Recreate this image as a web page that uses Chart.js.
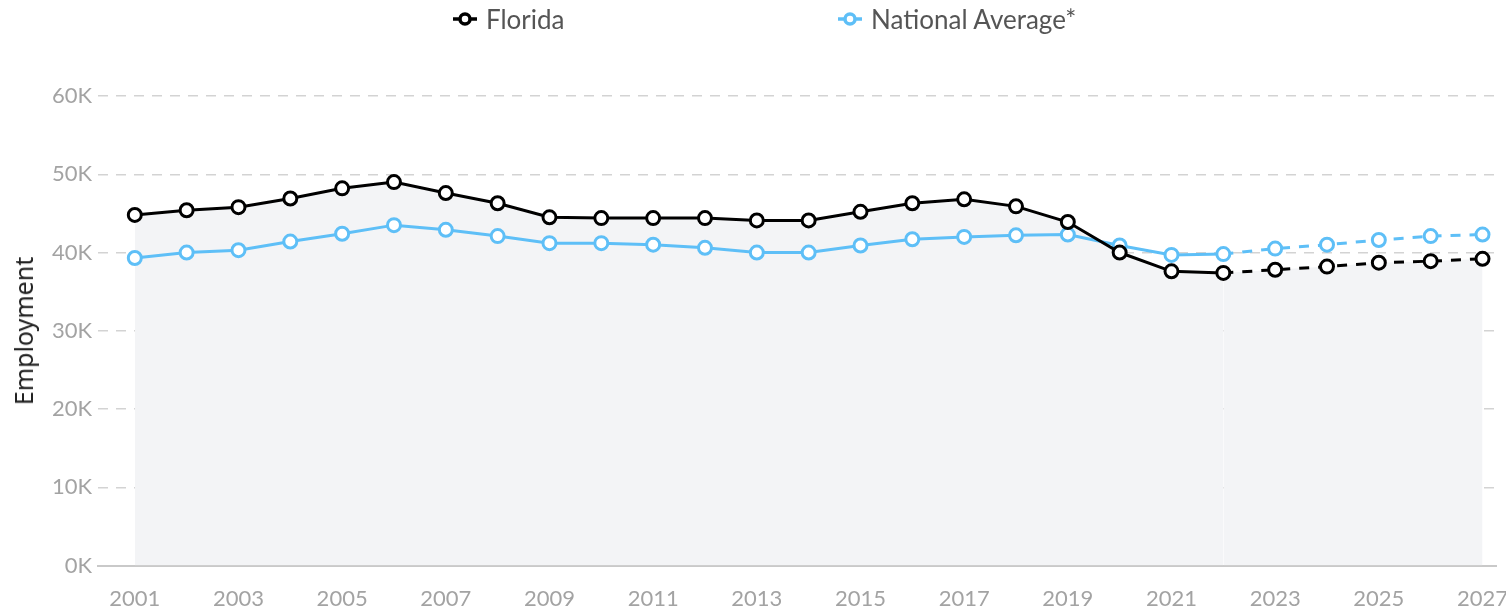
<!DOCTYPE html>
<html>
<head>
<meta charset="utf-8">
<script src="https://cdn.jsdelivr.net/npm/chart.js@4.4.1/dist/chart.umd.min.js"></script>
<style>
  html, body { margin: 0; padding: 0; background: #fff; overflow: hidden; }
  #wrap { position: relative; width: 1506px; height: 613px; overflow: hidden; }
  #chart { position: absolute; left: 0; top: 0; }
  #legend { position: absolute; top: 0; left: 0; width: 100%; height: 40px; font-family: Lato, sans-serif; font-size: 26px; color: #555; }
  .item { position: absolute; top: 3px; display: flex; align-items: center; white-space: nowrap; }
  .item svg { margin-right: 9px; }
  #ytitle { position: absolute; left: 23px; top: 331px; transform: translate(-50%, -50%) rotate(-90deg);
    font-family: 'Noto Sans', sans-serif; font-size: 25px; color: #222; white-space: nowrap; }
</style>
</head>
<body>
<div id="wrap">
  <canvas id="chart" width="1506" height="632"></canvas>
  <div id="legend"></div>
  <div id="ytitle">Employment</div>
</div>
<script>
const years = [2001, 2002, 2003, 2004, 2005, 2006, 2007, 2008, 2009, 2010, 2011, 2012, 2013, 2014,
  2015, 2016, 2017, 2018, 2019, 2020, 2021, 2022, 2023, 2024, 2025, 2026, 2027];
const florida = [44800, 45400, 45800, 46900, 48200, 49000, 47600, 46300, 44500, 44400, 44400, 44400, 44100, 44100,
  45200, 46300, 46800, 45900, 43900, 40000, 37600, 37400, 37800, 38200, 38700, 38900, 39200];
const national = [39300, 40000, 40300, 41400, 42400, 43500, 42900, 42100, 41200, 41200, 41000, 40600, 40000, 40000,
  40900, 41700, 42000, 42200, 42300, 40900, 39700, 39800, 40500, 41000, 41600, 42100, 42300];
const tickYears = [2001, 2003, 2005, 2007, 2009, 2011, 2013, 2015, 2017, 2019, 2021, 2023, 2025, 2027];
const yTicks = [0, 10000, 20000, 30000, 40000, 50000, 60000];
const lastActual = 2022;

const series = [
  { label: 'Florida', values: florida, color: '#000000' },
  { label: 'National Average*', values: national, color: '#5ebff7' }
];

// legend drawn as html so the "-o-" marker matches
const legendPos = [453, 838];
const legend = document.getElementById('legend');
series.forEach((s, i) => {
  const el = document.createElement('div');
  el.className = 'item';
  el.style.left = legendPos[i] + 'px';
  el.innerHTML = `<svg width="24" height="16"><line x1="0" y1="8" x2="24" y2="8" stroke="${s.color}" stroke-width="3.5"/>` +
    `<circle cx="12" cy="8" r="5" fill="#fff" stroke="${s.color}" stroke-width="3.5"/></svg><span>${s.label}</span>`;
  legend.appendChild(el);
});

const projIndex = years.indexOf(lastActual);

const datasets = series.map((s, i) => ({
  label: s.label,
  data: years.map((yr, j) => ({ x: yr, y: s.values[j] })),
  borderColor: s.color,
  borderWidth: 3,
  pointRadius: 6.5,
  pointBorderWidth: 3,
  pointBackgroundColor: '#fff',
  pointBorderColor: s.color,
  tension: 0,
  fill: i === 0 ? 'origin' : false,
  backgroundColor: i === 0 ? '#f3f4f6' : 'transparent',
  segment: {
    borderDash: ctx => ctx.p0DataIndex >= projIndex ? [10, 9] : undefined
  }
}));

new Chart(document.getElementById('chart'), {
  type: 'line',
  data: { datasets },
  options: {
    responsive: false,
    animation: false,
    layout: { padding: { top: 96, right: 0, bottom: 0, left: 0 } },
    plugins: {
      legend: { display: false },
      tooltip: { enabled: false },
      filler: { drawTime: 'beforeDatasetsDraw' }
    },
    scales: {
      x: {
        type: 'linear',
        min: 2000.29,
        max: 2027.27,
        afterBuildTicks: axis => { axis.ticks = tickYears.map(v => ({ value: v })); },
        afterFit: axis => { axis.paddingLeft = 0; axis.paddingRight = 0; },
        grid: { display: false, drawTicks: false },
        border: { display: true, color: '#c9c9c9', width: 2 },
        ticks: {
          color: '#a3a3a3',
          font: { family: 'Lato', size: 22 },
          padding: 20,
          maxRotation: 0,
          autoSkip: false,
          callback: v => String(v)
        }
      },
      y: {
        min: 0,
        max: 60000,
        afterBuildTicks: axis => { axis.ticks = yTicks.map(v => ({ value: v })); },
        afterFit: axis => { axis.width = 98; },
        grid: {
          color: ctx => ctx.tick && ctx.tick.value === 0 ? 'transparent' : '#d3d3d3',
          lineWidth: 1.5,
          drawTicks: false,
          borderDash: [10, 8]
        },
        border: { display: false, dash: [10, 8] },
        ticks: {
          color: '#a3a3a3',
          font: { family: 'Lato', size: 22 },
          padding: 6,
          callback: v => (v / 1000) + 'K'
        }
      }
    }
  }
});
</script>
</body>
</html>
